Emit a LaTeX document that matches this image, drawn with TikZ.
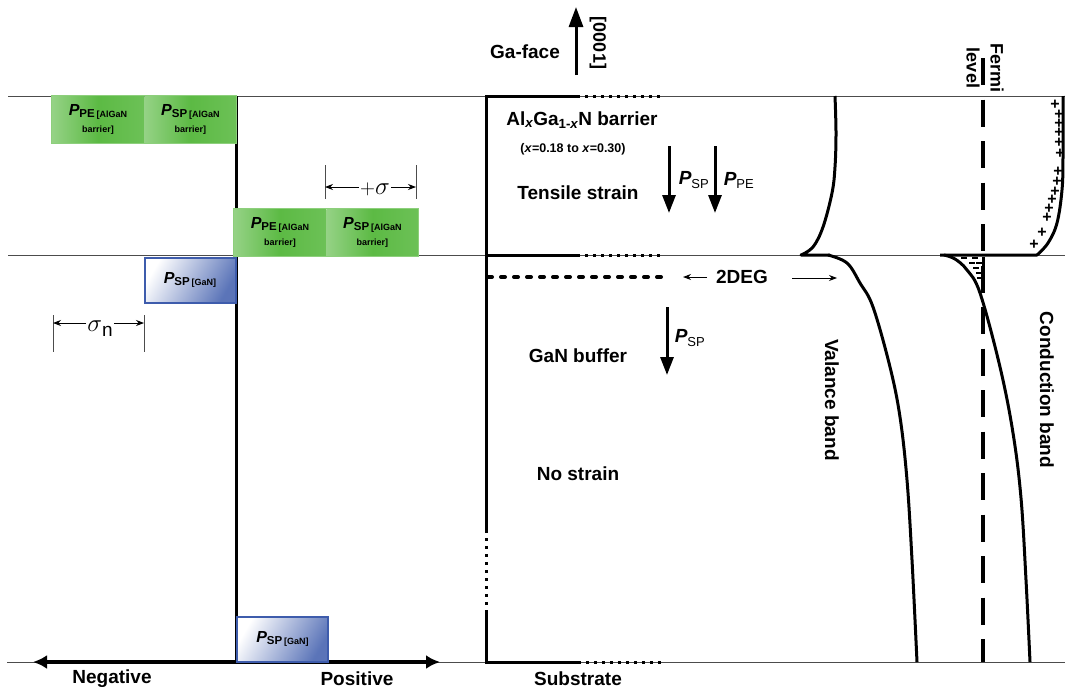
\documentclass[tikz,border=0pt]{standalone}
\usepackage{fontspec}
\setmainfont{Liberation Sans}
\usetikzlibrary{positioning, arrows.meta, fit}

\definecolor{barriergreen}{RGB}{92,186,68}
\definecolor{bufferblue}{RGB}{62,92,172}

\newcommand{\pvec}[1]{{\itshape P}\textsubscript{\mdseries\fontsize{13}{13}\selectfont #1}}
\newcommand{\pbox}[2]{{\fontsize{16}{16}\selectfont\itshape P}\raisebox{-2pt}{\fontsize{11.5}{11.5}\selectfont #1\,\fontsize{9}{9}\selectfont #2}}

\begin{document}
\begin{tikzpicture}[
    x=1pt, y=-1pt,
    font=\bfseries\fontsize{19}{22}\selectfont,
    guide/.style={line width=0.9pt, draw=black!70},
    layer/.style={line width=3pt},
    dotlayer/.style={line width=3pt, dash pattern=on 3pt off 5pt},
    twodeg/.style={line width=4pt, line cap=round, dash pattern=on 4pt off 9pt},
    band/.style={line width=3pt, line join=round},
    fermiline/.style={line width=3.5pt, dash pattern=on 27pt off 14.5pt},
    polar/.style={-{Triangle[length=18pt,width=13pt]}, line width=3pt},
    axis/.style={{Latex[length=14pt,width=14pt]}-{Latex[length=14pt,width=14pt]}, line width=3.5pt},
    dim/.style={-{Stealth[length=8pt,width=6pt]}, line width=0.8pt},
    dimbar/.style={line width=0.8pt, draw=black!70},
    halfgreen/.style={
        shade, left color=barriergreen!65!white, right color=barriergreen!90!white,
        middle color=barriergreen, minimum width=92pt, minimum height=47pt,
        inner sep=0pt, align=center, font=\bfseries\fontsize{9}{17}\selectfont,
    },
    gabox/.style={
        draw=bufferblue, line width=2pt, shade, left color=white,
        right color=bufferblue!85, shading angle=60,
        minimum width=91pt, minimum height=45pt, inner sep=0pt,
        font=\bfseries,
    },
    plussign/.style={font=\bfseries\fontsize{16}{16}\selectfont, inner sep=0pt},
]

% rows and columns (pixel grid)
\def\ytop{96}    % surface
\def\yhet{255}   % AlGaN/GaN interface
\def\ybot{662}   % substrate
\def\xmid{236}   % charge axis
\def\xlay{486}   % layer stack

\useasboundingbox (0,0) rectangle (1065,691);

% guide lines
\draw[guide] (8,\ytop) -- (1065,\ytop);
\draw[guide] (8,\yhet) -- (1065,\yhet);
\draw[guide] (7,\ybot) -- (1065,\ybot);

% --- polarisation charge picture ---
\draw[layer] (\xmid,\ytop) -- (\xmid,\ybot);
\draw[axis] (33,\ybot) -- (440,\ybot);

\node[halfgreen] (peTop) at (98,119.5) {\pbox{PE}{[AlGaN}\\barrier]};
\node[halfgreen, right=0pt of peTop] (spTop) {\pbox{SP}{[AlGaN}\\barrier]};
\node[draw=barriergreen!70!white, line width=1pt, inner sep=0pt, fit=(peTop)(spTop)] (boxTop) {};

\node[halfgreen] (peMid) at (280,232.5) {\pbox{PE}{[AlGaN}\\barrier]};
\node[halfgreen, right=0pt of peMid] (spMid) {\pbox{SP}{[AlGaN}\\barrier]};
\node[draw=barriergreen!70!white, line width=1pt, inner sep=0pt, fit=(peMid)(spMid)] (boxMid) {};

\node[gabox] (gaUp) at (190,280) {\pbox{SP}{[GaN]}};
\node[gabox] (gaLow) at (282.5,639) {\pbox{SP}{[GaN]}};

\node (neg) at (112,679) {Negative};
\node (pos) at (357,679) {Positive};

% +sigma
\draw[dimbar] (325,165) -- (325,199);
\draw[dimbar] (416,165) -- (416,199);
\coordinate (sgL) at (325,187);
\coordinate (sgR) at (416,187);
\node[inner sep=1pt, font=\mdseries] (sigma) at (375,189)
    {{\fontsize{20}{20}\selectfont$+$}{\fontsize{32}{32}\selectfont$\sigma$}};
\draw[dim] (sigma.west |- sgL) -- (sgL);
\draw[dim] (sigma.east |- sgR) -- (sgR);

% sigma_n
\draw[dimbar] (53,315) -- (53,352);
\draw[dimbar] (144,315) -- (144,352);
\coordinate (snL) at (53,323);
\coordinate (snR) at (144,323);
\node[inner sep=1pt, font=\mdseries] (sigman) at (100,329)
    {{\fontsize{32}{32}\selectfont$\sigma$}{\fontsize{19}{19}\selectfont\raisebox{-5pt}{n}}};
\draw[dim] (sigman.west |- snL) -- (snL);
\draw[dim] (sigman.east |- snR) -- (snR);

% --- layer stack ---
\draw[layer] (577,\ytop) -- (\xlay,\ytop) -- (\xlay,530);
\draw[dotlayer] (\xlay,530) -- (\xlay,610);
\draw[layer] (\xlay,610) -- (\xlay,\ybot) -- (578,\ybot);
\draw[layer] (\xlay,\yhet) -- (577,\yhet);
\draw[dotlayer] (577,\ytop) -- (663,\ytop);
\draw[dotlayer] (577,\yhet) -- (663,\yhet);
\draw[dotlayer] (578,\ybot) -- (663,\ybot);
\draw[twodeg] (488,277) -- (667,277);

\node (gaface) at (525,52) {Ga-face};
\coordinate (dirtail) at (576,75);
\coordinate (dirtip) at (576,7);
\draw[-{Triangle[length=20pt,width=14pt]}, line width=3pt] (dirtail) -- (dirtip);
\node[rotate=-90, font=\bfseries\fontsize{18}{20}\selectfont] (dir) at (598,43) {[0001]};

\node (barrier) at (582,120) {Al\textsubscript{\itshape x}Ga\textsubscript{1-\itshape x}N barrier};
\node[font=\bfseries\fontsize{12.5}{14}\selectfont] (comp) at (573,149) {(\textit{x}=0.18 to \textit{x}=0.30)};
\node (tensile) at (578,193) {Tensile strain};
\node (buffer) at (578,356) {GaN buffer};
\node (nostrain) at (578,474) {No strain};
\node (substrate) at (578,679) {Substrate};

\draw[polar] (669,146) -- (669,213);
\node (pspA) at (694,180) {\pvec{SP}};
\draw[polar] (715,146) -- (715,213);
\node (ppeA) at (739,180) {\pvec{PE}};
\draw[polar] (667,307) -- (667,375);
\node (pspB) at (690,338) {\pvec{SP}};

% 2DEG
\node (deg) at (742,277) {2DEG};
\coordinate (degL) at (683,277);
\coordinate (degR) at (837,278);
\draw[dim, line width=1pt] (707,277) -- (degL);
\draw[dim, line width=1pt] (792,278) -- (degR);

% --- band diagram ---
% valence band
\draw[band] plot[smooth, tension=0.6] coordinates
    {(835,96) (836,133) (835,167) (832,193) (823,227) (813,247) (801,255)}
    -- (830,255);
\draw[band] plot[smooth, tension=0.6] coordinates
    {(828,255) (847,263) (860,283) (873,307) (890,367) (900,417) (907,480) (912,560) (917,662)};
% conduction band
\draw[band] plot[smooth, tension=0.6] coordinates
    {(1063,96) (1063,157) (1062,190) (1057,223) (1048,243) (1037,255)}
    -- (940,255);
\draw[band] plot[smooth, tension=0.6] coordinates
    {(944,255) (955,259) (967,270) (980,293) (1000,367) (1013,433) (1021,498) (1026,580) (1030,662)};
% Fermi level
\draw[fermiline] (983,58) -- (983,\ybot);
\draw[line width=3pt] (983,257) -- (983,270);

\node[rotate=-90] (vband) at (832,400) {Valance band};
\node[rotate=-90] (cband) at (1047,390) {Conduction band};
\node[rotate=-90, align=center, font=\bfseries\fontsize{18}{24}\selectfont] (fermi) at (985,68) {Fermi\\level};

% sheet charges
\foreach \px/\py [count=\i] in {1055/105, 1059/115, 1059/124, 1059/133, 1059/143, 1060/154,
        1058/172, 1057/182, 1055/192, 1052/200, 1049/209, 1047/218, 1042/233, 1034/245}
    \node[plussign] (plus\i) at (\px,\py) {+};
\foreach \mx/\my in {964/258, 975/258, 972/263, 979/263, 976/268, 979/273, 980/278}
    \draw[line width=1.6pt] ({\mx-3},\my) -- ({\mx+3},\my);

\end{tikzpicture}
\end{document}
